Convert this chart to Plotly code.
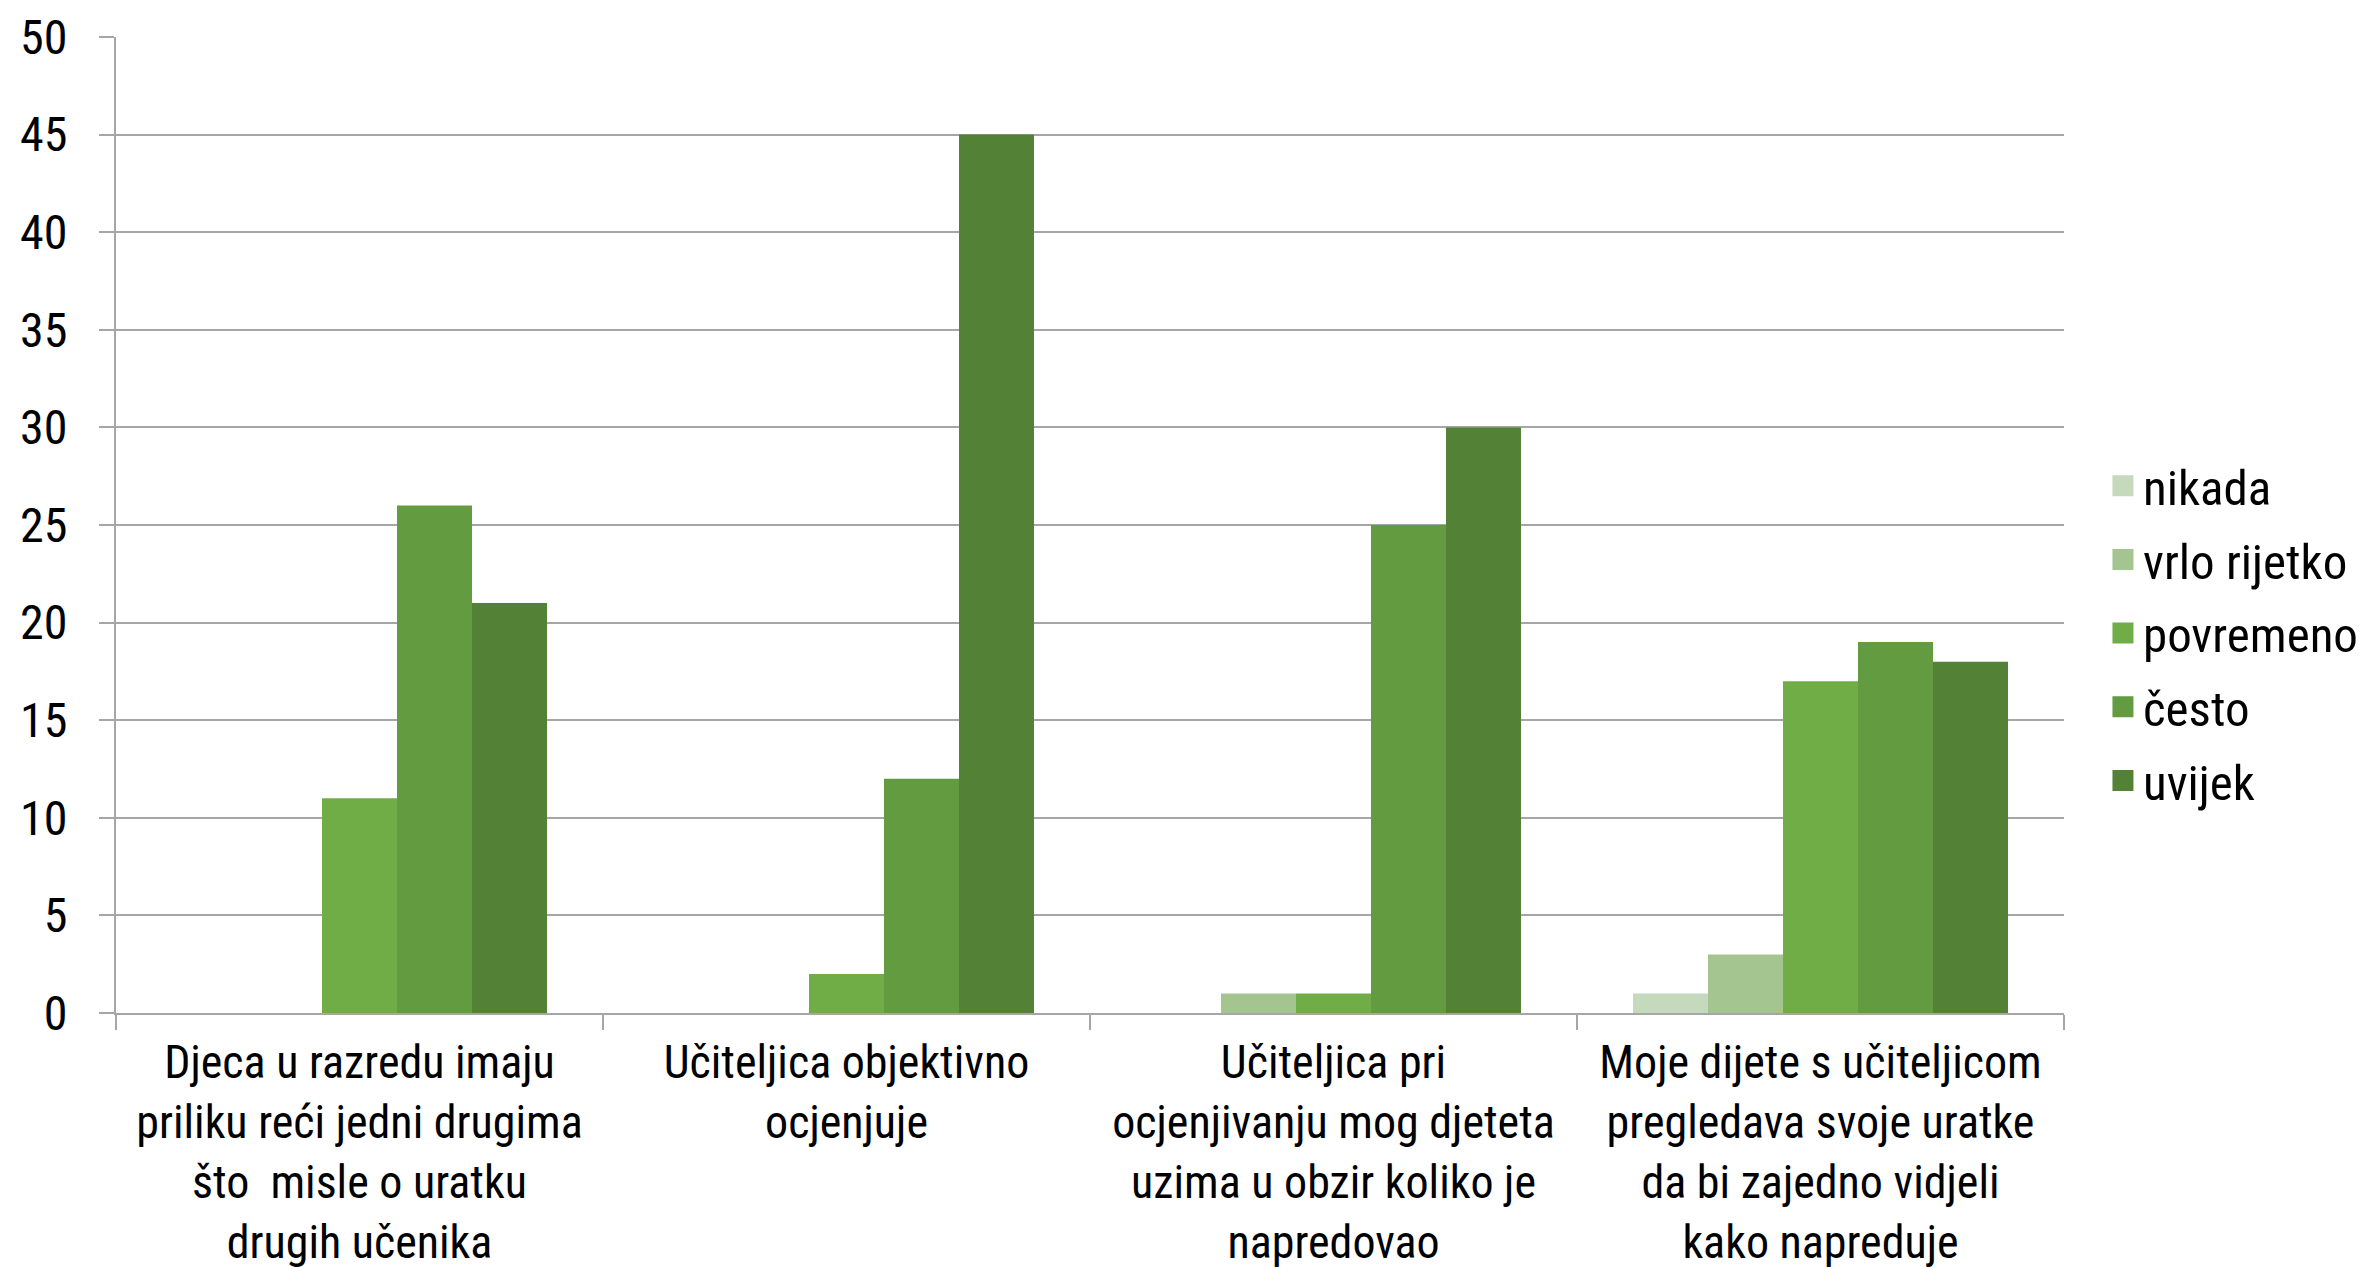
import plotly.graph_objects as go

# pitanja (kategorije na x osi)
kategorije = [
    "Djeca u razredu imaju<br>priliku reći jedni drugima<br>što  misle o uratku<br>drugih učenika",
    "Učiteljica objektivno<br>ocjenjuje",
    "Učiteljica pri<br>ocjenjivanju mog djeteta<br>uzima u obzir koliko je<br>napredovao",
    "Moje dijete s učiteljicom<br>pregledava svoje uratke<br>da bi zajedno vidjeli<br>kako napreduje",
]

odgovori = ["nikada", "vrlo rijetko", "povremeno", "često", "uvijek"]

nikada = [0, 0, 0, 1]
vrlo_rijetko = [0, 0, 1, 3]
povremeno = [11, 2, 1, 17]
cesto = [26, 12, 25, 19]
uvijek = [21, 45, 30, 18]

y_ticks = [0, 5, 10, 15, 20, 25, 30, 35, 40, 45, 50]

boje = ["#C5D9BC", "#A5C590", "#70AD47", "#629B40", "#538135"]
vrijednosti = [nikada, vrlo_rijetko, povremeno, cesto, uvijek]

FONT = "Liberation Sans Narrow, Roboto Condensed, Arial Narrow, Liberation Sans, sans-serif"
SIVA = "#A6A6A6"

fig = go.Figure()

for naziv, vals, boja in zip(odgovori, vrijednosti, boje):
    fig.add_trace(go.Bar(
        x=kategorije,
        y=vals,
        name=naziv,
        marker_color=boja,
        marker_line_width=0,
        showlegend=False,
    ))

# zamjenski tragovi samo za legendu (veći kvadratići)
for naziv, boja in zip(odgovori, boje):
    fig.add_trace(go.Scatter(
        x=[None],
        y=[None],
        mode="markers",
        name=naziv,
        legendgroup=naziv,
        marker=dict(symbol="square", size=16, color=boja,
                    line=dict(color=boja, width=5)),
        showlegend=True,
    ))

fig.update_layout(
    width=2374,
    height=1268,
    barmode="group",
    bargap=0.23,
    bargroupgap=0,
    plot_bgcolor="white",
    paper_bgcolor="white",
    font=dict(family=FONT, size=46, color="black"),
    margin=dict(l=108, r=318, t=29, b=263),
    legend=dict(
        x=1.02,
        y=0.389,
        xanchor="left",
        yanchor="middle",
        font=dict(size=49),
        tracegroupgap=7,
    ),
)

fig.update_xaxes(
    type="category",
    showline=True,
    linecolor=SIVA,
    linewidth=2,
    ticks="outside",
    tickson="boundaries",
    ticklen=15,
    tickwidth=2,
    tickcolor=SIVA,
    tickfont=dict(size=46),
    ticklabelstandoff=8,
    showgrid=False,
    automargin=False,
)

fig.update_yaxes(
    range=[0, 50],
    tickvals=y_ticks,
    showline=True,
    linecolor=SIVA,
    linewidth=2,
    ticks="outside",
    ticklen=15,
    tickwidth=2,
    tickcolor=SIVA,
    tickfont=dict(size=48),
    ticklabelstandoff=22,
    showgrid=True,
    gridcolor=SIVA,
    gridwidth=2,
    zeroline=False,
    automargin=False,
)

fig.write_html("out.html")
